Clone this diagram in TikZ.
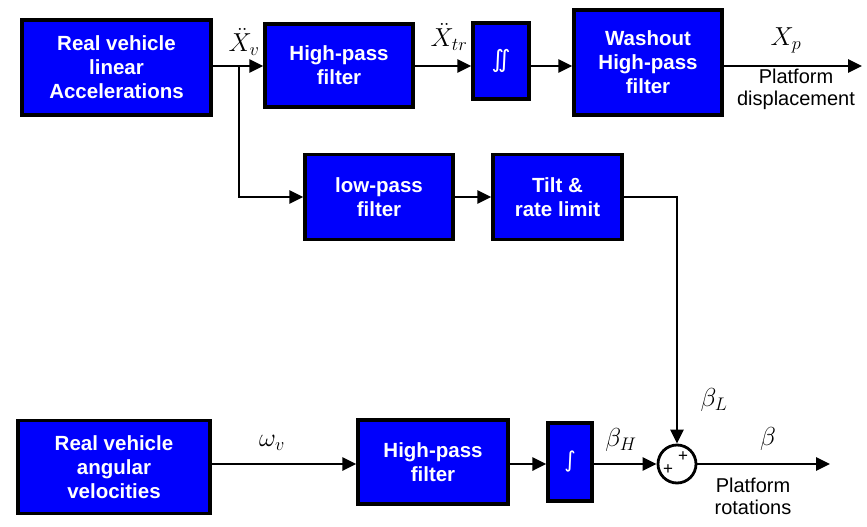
\RequirePackage{fix-cm}
\documentclass[tikz,border=0pt]{standalone}
\usepackage{amsmath}
\usepackage{fontspec}
\setsansfont{Liberation Sans}
\newfontfamily\symfont{DejaVu Sans}
\usetikzlibrary{arrows.meta,calc}
\definecolor{boxblue}{RGB}{0,0,252}
\begin{document}
\begin{tikzpicture}[x=1pt,y=-1pt,
  blk/.style={draw=black,line width=3.2pt,fill=boxblue,text=white,align=center,
    font=\sffamily\bfseries\fontsize{20.5}{24}\selectfont,inner sep=0pt},
  arr/.style={line width=2.8pt,-{Triangle[length=14pt,width=13pt]}},
  mlab/.style={font=\fontsize{26}{28}\selectfont,inner sep=0pt},
  olab/.style={font=\sffamily\fontsize{20}{22}\selectfont,align=center,inner sep=0pt}]
\useasboundingbox (0,0) rectangle (867,527);
% top row
\node[blk,minimum width=189pt,minimum height=95pt] (box1) at (116.5,67.5) {Real vehicle\\linear\\Accelerations};
\node[blk,minimum width=148pt,minimum height=83pt] (hpf1) at (339,65.5) {High-pass\\filter};
\node[blk,minimum width=56pt,minimum height=76pt,font=\symfont\fontsize{24}{26}\selectfont] (int2) at (501,61) {∬};
\node[blk,minimum width=148pt,minimum height=105pt] (wash) at (648,62.5) {Washout\\High-pass\\filter};
% middle row
\node[blk,minimum width=148pt,minimum height=85pt] (lp) at (379,197) {low-pass\\filter};
\node[blk,minimum width=129pt,minimum height=85pt] (tilt) at (557.5,197) {Tilt \&\\rate limit};
% bottom row
\node[blk,minimum width=192pt,minimum height=93pt] (box2) at (114,467) {Real vehicle\\angular\\velocities};
\node[blk,minimum width=150pt,minimum height=84pt] (hpf2) at (433,462) {High-pass\\filter};
\node[blk,minimum width=44pt,minimum height=78pt,font=\symfont\fontsize{22}{24}\selectfont] (int1) at (570,462) {∫};
\node[draw=black,line width=2.8pt,circle,minimum size=38pt,inner sep=0pt] (sum) at (677,464) {};
\node[font=\sffamily\fontsize{17}{17}\selectfont,inner sep=0pt] (p1) at (668,470) {+};
\node[font=\sffamily\fontsize{17}{17}\selectfont,inner sep=0pt] (p2) at (683,457) {+};
% coordinates
\coordinate (ytop) at (0,66);
\coordinate (ybot) at (0,464);
\coordinate (br) at (239,66);
\coordinate (outtop) at (862,66);
\coordinate (outbot) at (830,464);
% connectors
\draw[arr] (box1.east |- ytop) -- (hpf1.west |- ytop);
\draw[arr] (hpf1.east |- ytop) -- (int2.west |- ytop);
\draw[arr] (int2.east |- ytop) -- (wash.west |- ytop);
\draw[arr] (wash.east |- ytop) -- (outtop);
\draw[arr] (br) |- (lp.west);
\draw[arr] (lp.east) -- (tilt.west);
\draw[arr] (tilt.east) -| (sum.north);
\draw[arr] (box2.east |- ybot) -- (hpf2.west |- ybot);
\draw[arr] (hpf2.east |- ybot) -- (int1.west |- ybot);
\draw[arr] (int1.east |- ybot) -- (sum.west);
\draw[arr] (sum.east) -- (outbot);
% labels
\node[mlab] (l1) at (244,42) {$\ddot{X}_{v}$};
\node[mlab] (l2) at (449,37) {$\ddot{X}_{tr}$};
\node[mlab] (l3) at (786,40) {$X_{p}$};
\node[olab] (l4) at (796,89) {Platform\\displacement};
\node[mlab] (l5) at (272,443) {$\omega_{v}$};
\node[mlab] (l6) at (621,440) {$\beta_{H}$};
\node[mlab] (l7) at (714,400) {$\beta_{L}$};
\node[mlab] (l8) at (768,439) {$\beta$};
\node[olab] (l9) at (753,496) {Platform\\rotations};
\end{tikzpicture}
\end{document}
